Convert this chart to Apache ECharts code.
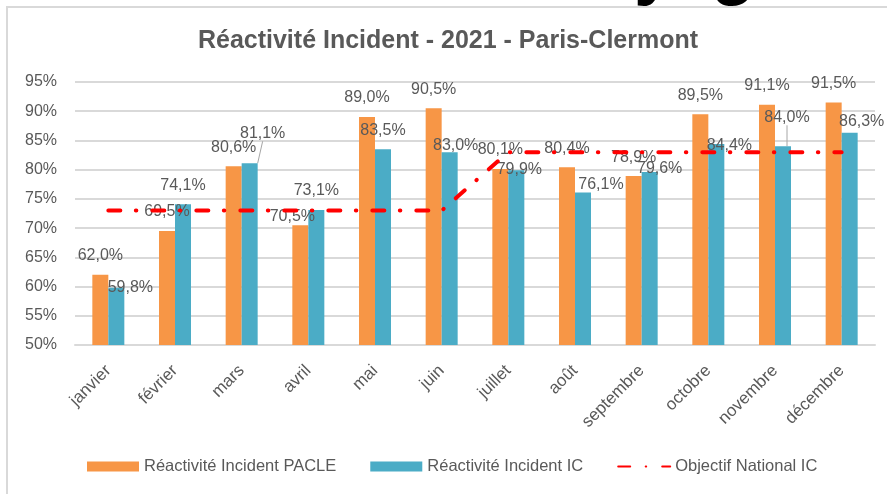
<!DOCTYPE html>
<html>
<head>
<meta charset="utf-8">
<title>Réactivité Incident - 2021 - Paris-Clermont</title>
<script src="https://cdn.jsdelivr.net/npm/echarts@6/dist/echarts.min.js"></script>
<style>
	html, body { margin: 0; padding: 0; background: #fff; }
	#chart { width: 887px; height: 494px; }
</style>
</head>
<body>
<div id="chart"></div>
<script>
// données
const months = ['janvier', 'février', 'mars', 'avril', 'mai', 'juin', 'juillet', 'août', 'septembre', 'octobre', 'novembre', 'décembre'];
const pacle = [62.0, 69.5, 80.6, 70.5, 89.0, 90.5, 80.1, 80.4, 78.9, 89.5, 91.1, 91.5];
const ic = [59.8, 74.1, 81.1, 73.1, 83.5, 83.0, 79.9, 76.1, 79.6, 84.4, 84.0, 86.3];
const objectif = [73, 73, 73, 73, 73, 73, 83, 83, 83, 83, 83, 83];
const yMin = 50;
const yMax = 95;
const yStep = 5;

const names = ['Réactivité Incident PACLE', 'Réactivité Incident IC', 'Objectif National IC'];

// décalage des étiquettes déplacées à la main (style)
const pacleShift = [[0, 0], [0, 0], [0, 0], [-8, 10], [0, 0], [0, 0], [0, 0], [0, 0], [0, 0], [0, 0], [0, 0], [0, 0]];
const icShift = [[14, 19], [0, 0], [13, -11], [0, 0], [0, 0], [6, 12], [3, 18], [18, 11], [10, 16], [13, 21], [4, -10], [12, 8]];
const icLeader = [false, false, true, false, false, false, false, false, false, false, true, false];

const grey = '#595959';
const font = 'Liberation Sans';

const pct = function (p) {
	return p.value.toFixed(1).replace('.', ',') + '%';
};

const barLabel = {
	show: true,
	position: 'top',
	distance: 11,
	fontSize: 16,
	fontFamily: font,
	color: grey,
	formatter: pct
};

const chart = echarts.init(document.getElementById('chart'), null, { renderer: 'canvas' });

const options = {
	backgroundColor: '#ffffff',
	animation: false,
	title: {
		text: 'Réactivité Incident - 2021 - Paris-Clermont',
		left: 443,
		textAlign: 'center',
		top: 24,
		textStyle: {
			fontFamily: font,
			fontWeight: 'bold',
			fontSize: 25,
			color: grey
		}
	},
	graphic: [{
		// bas des lettres coupées au-dessus du cadre
		type: 'text',
		x: 634,
		y: 7,
		z: -2,
		style: { text: 'y', font: 'bold 72px "Liberation Sans"', fill: '#000', verticalAlign: 'bottom' }
	}, {
		type: 'text',
		x: 711,
		y: 7,
		z: -2,
		style: { text: 'g', font: 'bold 72px "Liberation Sans"', fill: '#000', verticalAlign: 'bottom' }
	}, {
		type: 'rect',
		z: -1,
		shape: { x: 7, y: 7, width: 900, height: 500 },
		style: { fill: '#ffffff', stroke: '#d9d9d9', lineWidth: 2 }
	}],
	legend: {
		top: 453,
		left: 82,
		itemWidth: 52,
		itemHeight: 10,
		itemGap: 34,
		textStyle: {
			fontFamily: font,
			fontSize: 16.5,
			color: grey
		},
		data: [
			{ name: names[0], icon: 'rect' },
			{ name: names[1], icon: 'rect' },
			{ name: names[2], itemStyle: { opacity: 0 } }
		]
	},
	grid: {
		left: 75,
		right: 12,
		top: 82,
		bottom: 149
	},
	xAxis: {
		type: 'category',
		data: months,
		axisTick: { show: false },
		axisLine: { lineStyle: { color: '#d9d9d9', width: 2 } },
		axisLabel: {
			interval: 0,
			rotate: 45,
			margin: 23,
			fontFamily: font,
			fontSize: 17,
			color: grey
		}
	},
	yAxis: {
		type: 'value',
		min: yMin,
		max: yMax,
		interval: yStep,
		axisLine: { show: false },
		axisTick: { show: false },
		axisLabel: {
			margin: 18,
			fontFamily: font,
			fontSize: 16,
			color: grey,
			formatter: '{value}%'
		},
		splitLine: { lineStyle: { color: '#d9d9d9', width: 2 } }
	},
	series: [{
		name: names[0],
		type: 'bar',
		barWidth: 16,
		barGap: '0%',
		itemStyle: { color: '#f79646' },
		label: barLabel,
		labelLayout: function (p) {
			return { dx: pacleShift[p.dataIndex][0], dy: pacleShift[p.dataIndex][1] };
		},
		data: pacle
	}, {
		name: names[1],
		type: 'bar',
		barWidth: 16,
		barGap: '0%',
		itemStyle: { color: '#4bacc6' },
		label: barLabel,
		labelLine: { lineStyle: { color: '#a6a6a6', width: 1 } },
		labelLayout: function (p) {
			return { dx: icShift[p.dataIndex][0], dy: icShift[p.dataIndex][1] };
		},
		data: ic.map(function (v, i) {
			return { value: v, labelLine: { show: icLeader[i] } };
		})
	}, {
		name: names[2],
		type: 'line',
		symbol: 'none',
		smooth: false,
		lineStyle: {
			color: '#ff0000',
			width: 4,
			type: [12, 15.5, 0.5, 16],
			cap: 'round'
		},
		itemStyle: { color: '#ff0000' },
		data: objectif
	}]
};

chart.setOption(options);
</script>
</body>
</html>
